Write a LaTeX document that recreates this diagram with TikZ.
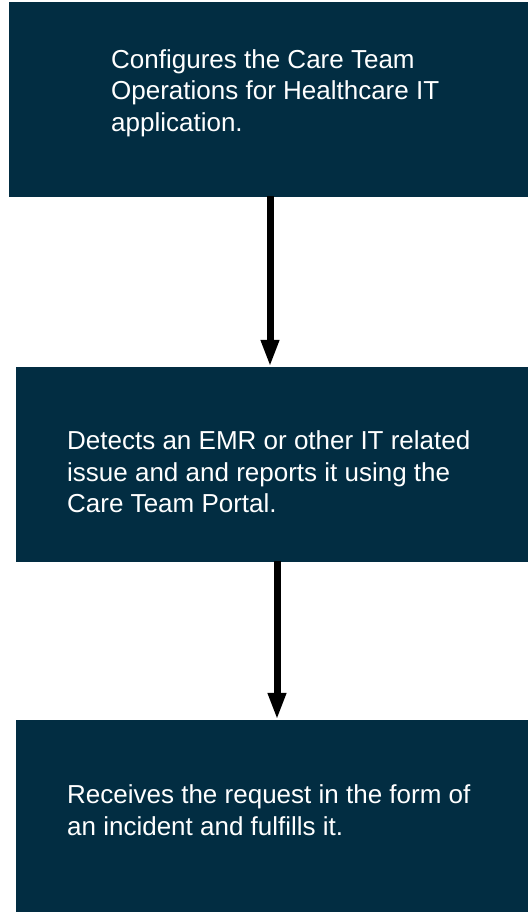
\documentclass[tikz,border=0pt]{standalone}
\usepackage{xcolor}
\definecolor{navybox}{HTML}{022D42}
\usepackage{fontspec}
\setmainfont{Liberation Sans}
\usepackage{tikz}
\usetikzlibrary{arrows.meta,positioning,calc}

\begin{document}
\begin{tikzpicture}[x=1bp, y=-1bp,
  stepbox/.style={rectangle, draw=navybox, fill=navybox, inner sep=0pt},
  steptext/.style={anchor=west, inner sep=0pt, align=left, text=white,
    font=\fontsize{26bp}{31.5bp}\selectfont},
  flowarrow/.style={draw=black, line width=7bp,
    -{Triangle[width=17bp,length=27bp]}}]
  \useasboundingbox (0,0) rectangle (528,912);

  % boxes
  \node[stepbox, minimum width=519bp, minimum height=194bp] (config) at (268.5,99) {};
  \node[stepbox, minimum width=512bp, minimum height=194bp] (detect) at (272,464) {};
  \node[stepbox, minimum width=512bp, minimum height=192bp] (receive) at (272,816) {};

  % texts
  \node[steptext] (configText) at (111,93) {Configures the Care Team\\
    Operations for Healthcare IT\\ application.};
  \node[steptext] (detectText) at (67,472) {Detects an EMR or other IT related\\
    issue and and reports it using the\\ Care Team Portal.};
  \node[steptext] (receiveText) at (67,810) {Receives the request in the form of\\
    an incident and fulfills it.};

  % arrows
  \coordinate (a1) at (270,0);
  \coordinate (a2) at (277,0);
  \draw[flowarrow] (a1 |- config.south) -- (a1 |- detect.north);
  \draw[flowarrow] (a2 |- detect.south) -- (a2 |- receive.north);
\end{tikzpicture}
\end{document}
